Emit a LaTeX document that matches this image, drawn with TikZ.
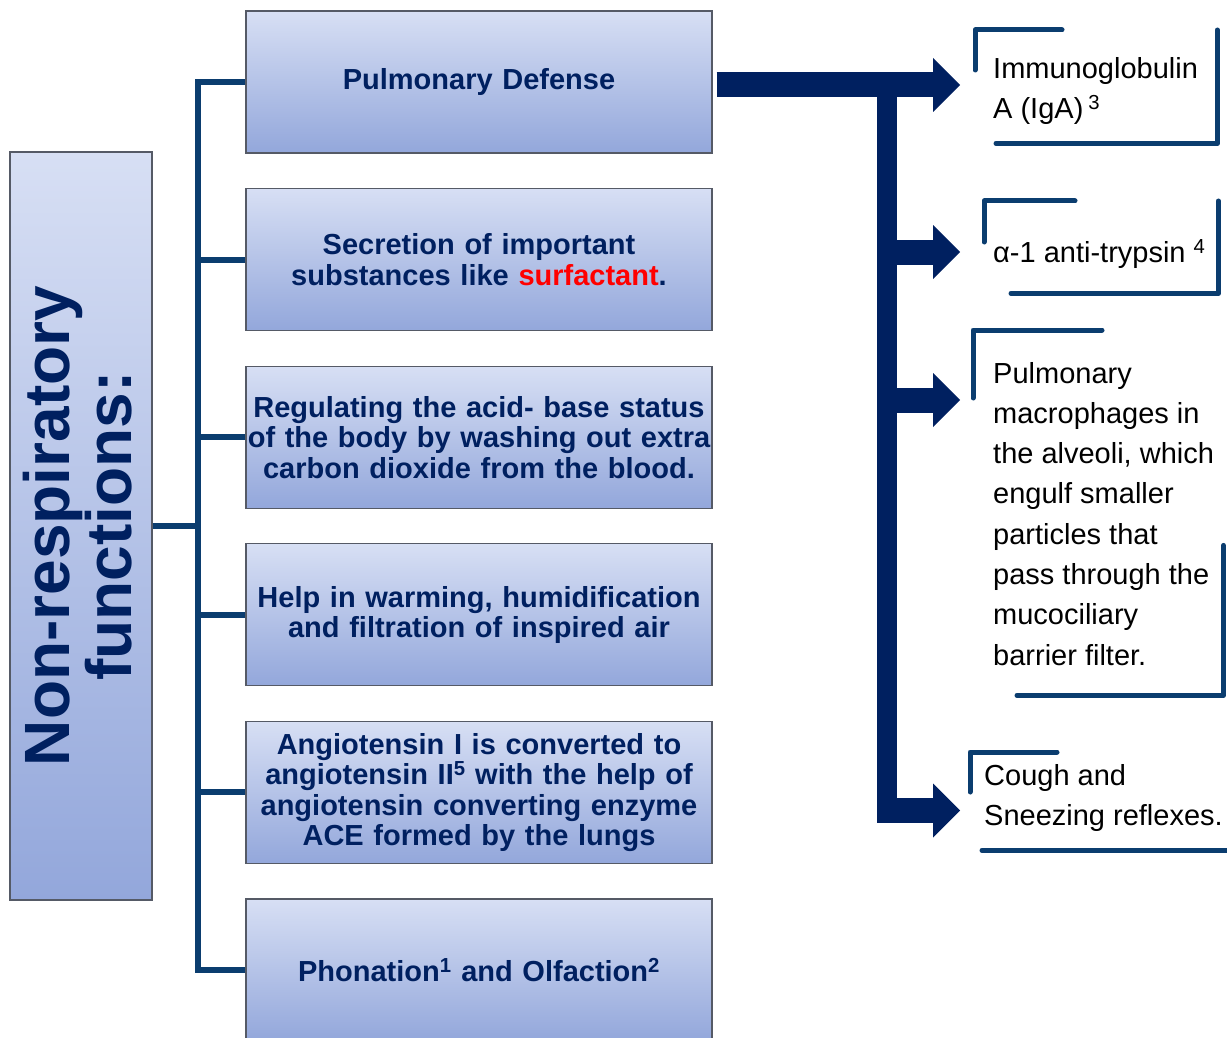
\documentclass[tikz,border=0pt]{standalone}
\usepackage{fontspec}
\setmainfont{Liberation Sans}
\usetikzlibrary{matrix,positioning,arrows.meta,calc}
\definecolor{navy}{HTML}{002060}
\definecolor{linkblue}{HTML}{0B3D6F}
\definecolor{boxtop}{HTML}{D7DFF4}
\definecolor{boxbot}{HTML}{93A7DB}
\definecolor{boxline}{HTML}{555A66}
\tikzset{
	funcbox/.style={rectangle,draw=boxline,line width=1.3pt,top color=boxtop,bottom color=boxbot,
		minimum width=466pt,minimum height=142pt,text width=466pt,inner xsep=0pt,align=center,
		text=navy,font=\fontsize{29}{30.5}\selectfont\bfseries},
	titlebox/.style={rectangle,draw=boxline,line width=1.3pt,top color=boxtop,bottom color=boxbot,
		minimum width=142pt,minimum height=748pt},
	titletext/.style={align=center,text=navy,font=\fontsize{64}{62}\selectfont\bfseries},
	itemframe/.style={rectangle,inner sep=0pt,anchor=north west},
	item/.style={inner sep=0pt,anchor=west,align=left,font=\fontsize{29}{40.3}\selectfont},
	link/.style={draw=linkblue,line width=6pt},
	frame/.style={draw=linkblue,line width=5pt,line cap=round,line join=round},
	bigarrow/.style={draw=navy,line width=25pt,-{Triangle[length=27pt,width=54pt,line width=0pt]}},
	trunk/.style={draw=navy,line width=20pt}
}

\begin{document}
\begin{tikzpicture}[x=1pt,y=-1pt]
	\useasboundingbox (0,0) rectangle (1227,1038);
	\matrix (m) [matrix of nodes,row sep=34.3pt,nodes={funcbox}] at (479,526)
	{
		Pulmonary Defense \\
		{Secretion of important\\ substances like \textcolor{red}{surfactant}.} \\
		{Regulating the acid- base status\\ of the body by washing out extra\\ carbon dioxide from the blood.} \\
		{Help in warming, humidification\\ and filtration of inspired air} \\
		{Angiotensin I is converted to\\ angiotensin II\textsuperscript{5} with the help of\\ angiotensin converting enzyme\\ ACE formed by the lungs} \\
		Phonation\textsuperscript{1} and Olfaction\textsuperscript{2} \\
	};
	\node[titlebox] (nrf) at (81,526) {};
	\node[titletext,rotate=90] (nrftext) at ($(nrf.center)+(-3,0)$) {Non-respiratory\\ functions:};
	\coordinate (spine) at (198,0);
	\draw[link,line cap=rect] (m-1-1.west -| spine) -- (m-6-1.west -| spine);
	\path[link]
	(nrf.east) edge (nrf.east -| spine)
	(m-1-1.west) edge (m-1-1.west -| spine)
	(m-2-1.west) edge (m-2-1.west -| spine)
	(m-3-1.west) edge (m-3-1.west -| spine)
	(m-4-1.west) edge (m-4-1.west -| spine)
	(m-5-1.west) edge (m-5-1.west -| spine)
	(m-6-1.west) edge (m-6-1.west -| spine);
	\node[itemframe,minimum width=242pt,minimum height=113pt] (iga) at (975,30) {};
	\node[itemframe,minimum width=234pt,minimum height=92pt] (aat) at (984,201) {};
	\node[itemframe,minimum width=250pt,minimum height=365pt] (mac) at (973,330) {};
	\node[itemframe,minimum width=262pt,minimum height=98pt] (cough) at (970,752) {};
	\node[item] (igatext) at ($(iga.west)+(18,4)$) {Immunoglobulin\\ A (IgA)\,\textsuperscript{3}};
	\node[item] (aattext) at ($(aat.west)+(9,7)$) {α-1 anti-trypsin \textsuperscript{4}};
	\node[item] (mactext) at ($(mac.west)+(20,1)$)
		{Pulmonary\\ macrophages in\\ the alveoli, which\\ engulf smaller\\ particles that\\ pass through the\\ mucociliary\\ barrier filter.};
	\node[item] (coughtext) at ($(cough.west)+(14,-3.5)$) {Cough and\\ Sneezing reflexes.};
	\draw[frame] ([yshift=-40pt]iga.north west) -- (iga.north west) -- ++(87,0);
	\draw[frame] ([xshift=21pt]iga.south west) -- (iga.south east) -- (iga.north east);
	\draw[frame] ([yshift=-41pt]aat.north west) -- (aat.north west) -- ++(91,0);
	\draw[frame] ([xshift=27pt]aat.south west) -- (aat.south east) -- (aat.north east);
	\draw[frame] ([yshift=-68pt]mac.north west) -- (mac.north west) -- ++(129,0);
	\draw[frame] ([xshift=44pt]mac.south west) -- (mac.south east) -- ++(0,-150);
	\draw[frame] ([yshift=-40pt]cough.north west) -- (cough.north west) -- ++(87,0);
	\draw[frame] ([xshift=12pt]cough.south west) -- (cough.south east) -- (cough.north east);
	\coordinate (tipcol) at (960,0);
	\coordinate (j1) at (887,85);
	\coordinate (j2) at (887,252);
	\coordinate (j3) at (887,400);
	\coordinate (j4) at (887,810.5);
	\draw[trunk] (j1) -- ($(j4)+(0,12.5)$);
	\draw[bigarrow] ($(m-1-1.east |- j1)+(4,0)$) -- (j1 -| tipcol);
	\draw[bigarrow] (j2) -- (j2 -| tipcol);
	\draw[bigarrow] (j3) -- (j3 -| tipcol);
	\draw[bigarrow] ($(j4)+(-10,0)$) -- (j4 -| tipcol);
\end{tikzpicture}
\end{document}
